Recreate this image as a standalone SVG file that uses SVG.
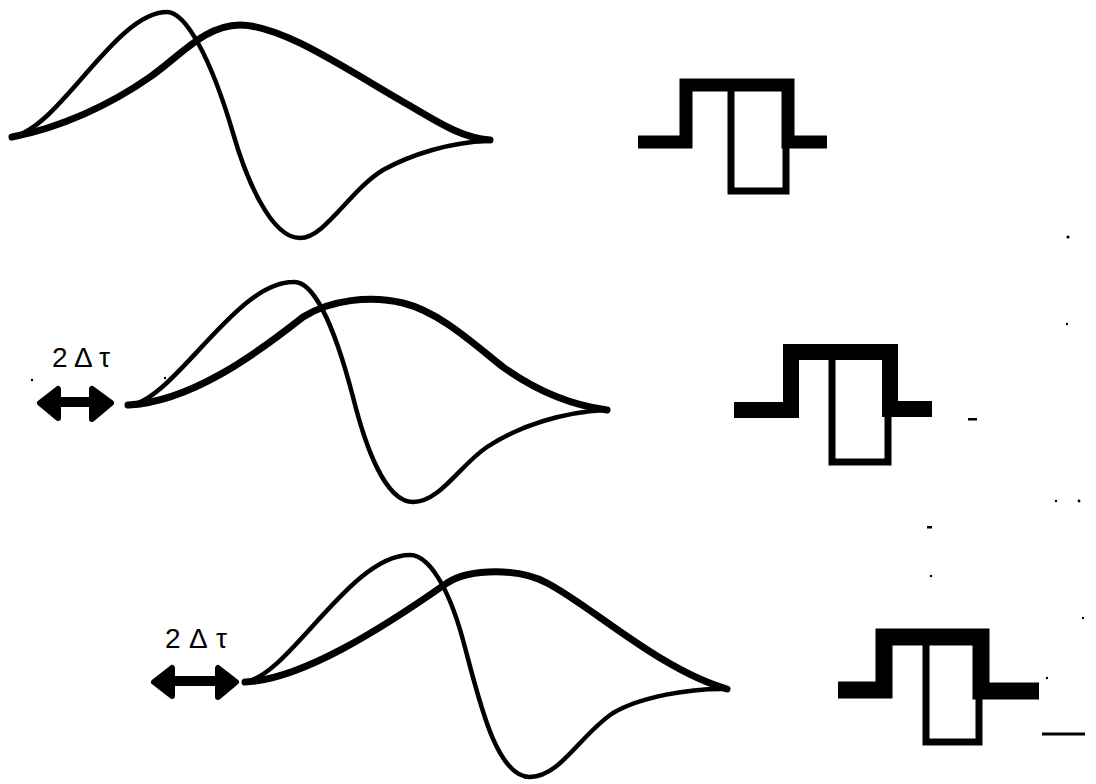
<svg xmlns="http://www.w3.org/2000/svg" width="1096" height="784" viewBox="0 0 1096 784">
<style>
.wave{fill:none;stroke:#000;stroke-linecap:round;stroke-linejoin:round}
.thick{stroke-width:7}
.thin{stroke-width:4.5}
.step{fill:none;stroke:#000;stroke-linecap:butt;stroke-linejoin:miter}
.box{fill:none;stroke:#000;stroke-width:7;stroke-linejoin:miter}
.shaft{stroke:#000;stroke-width:10;stroke-linecap:round}
.head{fill:#000;stroke:#000;stroke-width:6;stroke-linejoin:round}
.lbl{font-family:"Liberation Sans",Arial,sans-serif;font-size:28px;fill:#000}
.speck{fill:#000}
</style>
<rect width="1096" height="784" fill="#fff"/>

<g id="panel1">
  <path class="wave thin" d="M12,137 C60,128 115,12 167,12 C185,12 210,55 233,133 C245,175 270,238 300,238 C325,238 350,190 383,170 C410,155 450,142 488,141"/>
  <path class="wave thick" d="M12,137 C60,128 110,105 150,77 C180,56 205,25 240,25 C280,25 340,65 400,100 C435,120 460,138 490,140"/>
  <path class="step" stroke-width="13" d="M638,142 H686 V85 H788 V142 H827"/>
  <path class="box" d="M731,88 V191 H786 V142"/>
</g>

<g id="panel2">
  <path class="wave thin" d="M128,406 C175,400 235,282 293,282 C312,280 333,320 353,397 C365,445 385,502 413,502 C440,502 460,465 487,447 C520,425 565,412 605,410"/>
  <path class="wave thick" d="M128,405 C190,402 255,355 303,317 C330,300 370,295 403,303 C440,312 475,345 503,367 C535,390 570,405 607,410"/>
  <path class="step" stroke-width="16" d="M734,410 H791 V352 H890 V409 H932"/>
  <path class="box" stroke-width="8" d="M832,360 V462 H888 V409"/>
  <text class="lbl" x="52" y="367" textLength="58" lengthAdjust="spacing">2Δτ</text>
  <line class="shaft" x1="52" y1="402" x2="100" y2="402"/>
  <polygon class="head" points="40,403 58,389 58,418"/>
  <polygon class="head" points="111,403 92,389 92,419"/>
</g>

<g id="panel3">
  <path class="wave thin" d="M245,682 C290,675 350,555 410,555 C428,555 448,585 463,640 C478,695 495,777 530,777 C560,777 580,735 613,713 C640,697 690,688 727,689"/>
  <path class="wave thick" d="M245,682 C300,680 380,630 447,583 C470,568 520,568 547,583 C590,605 660,670 727,689"/>
  <path class="step" stroke-width="17" d="M838,690 H884 V637 H981 V691 H1039"/>
  <path class="box" stroke-width="8" d="M926,645 V742 H979 V691"/>
  <text class="lbl" x="165" y="648" textLength="62" lengthAdjust="spacing">2Δτ</text>
  <line class="shaft" x1="166" y1="681" x2="225" y2="681"/>
  <polygon class="head" points="154,682 172,668 172,696"/>
  <polygon class="head" points="236,682 218,668 218,697"/>
  <line x1="1042" y1="734" x2="1085" y2="734" stroke="#000" stroke-width="3"/>
</g>

<g id="specks">
  <circle class="speck" cx="1068" cy="237" r="1.6"/>
  <circle class="speck" cx="1067" cy="324" r="1.2"/>
  <circle class="speck" cx="1056" cy="501" r="1.2"/>
  <circle class="speck" cx="1079" cy="501" r="1.4"/>
  <circle class="speck" cx="931" cy="576" r="1.2"/>
  <circle class="speck" cx="32" cy="380" r="1.2"/>
  <circle class="speck" cx="165" cy="378" r="1.2"/>
  <circle class="speck" cx="1083" cy="618" r="1.2"/>
  <circle class="speck" cx="1047" cy="678" r="1.2"/>
  <rect class="speck" x="968" y="418" width="9" height="2.5"/>
  <rect class="speck" x="927" y="526" width="5" height="2.5"/>
</g>
</svg>
